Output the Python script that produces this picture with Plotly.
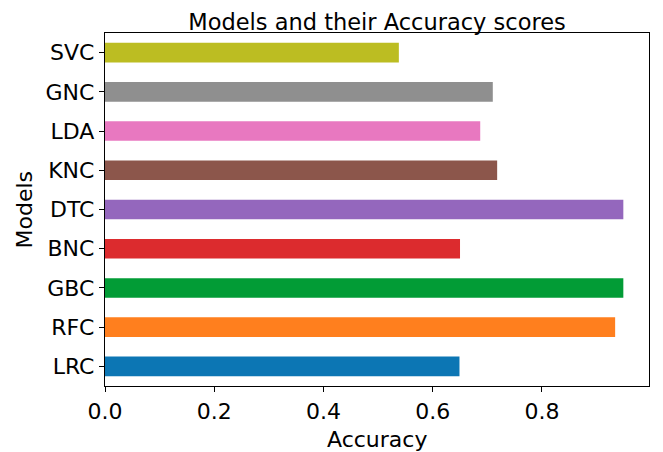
import plotly.graph_objects as go

models = ["LRC", "RFC", "GBC", "BNC", "DTC", "KNC", "LDA", "GNC", "SVC"]
accuracy = [0.649, 0.934, 0.949, 0.650, 0.949, 0.718, 0.687, 0.710, 0.538]
colors = ["#0c76b4", "#ff7f1e", "#029c36", "#dc2b2e", "#9467bd",
          "#8c564b", "#e878c0", "#8f8f8f", "#bcbd22"]
x_ticks = [0.0, 0.2, 0.4, 0.6, 0.8]

FONT = "DejaVu Sans"

fig = go.Figure(
    go.Bar(
        x=accuracy,
        y=models,
        orientation="h",
        width=0.5,
        marker=dict(color=colors, line=dict(width=0)),
    )
)

fig.update_layout(
    width=663,
    height=452,
    margin=dict(l=105, r=14, t=33, b=66),
    paper_bgcolor="white",
    plot_bgcolor="white",
    showlegend=False,
    font=dict(family=FONT, size=22, color="black"),
    title=dict(
        text="Models and their Accuracy scores",
        x=0.5,
        xref="paper",
        xanchor="center",
        y=1 - 21.8 / 452,
        yref="container",
        yanchor="middle",
        font=dict(family=FONT, size=22.5, color="black"),
    ),
    xaxis=dict(
        range=[0, 0.996],
        tickvals=x_ticks,
        ticktext=[f"{v:.1f}" for v in x_ticks],
        ticks="outside",
        ticklen=5,
        tickwidth=1.2,
        tickcolor="black",
        showline=True,
        linecolor="black",
        linewidth=1.3,
        mirror=True,
        showgrid=False,
        zeroline=False,
        tickfont=dict(family=FONT, size=22, color="black"),
    ),
    yaxis=dict(
        type="category",
        categoryorder="array",
        categoryarray=models,
        range=[-0.5, 8.5],
        ticks="outside",
        ticklen=5,
        tickwidth=1.2,
        tickcolor="black",
        showline=True,
        linecolor="black",
        linewidth=1.3,
        mirror=True,
        showgrid=False,
        zeroline=False,
        tickfont=dict(family=FONT, size=22, color="black"),
    ),
    annotations=[
        dict(
            text="Accuracy",
            xref="paper",
            yref="paper",
            x=0.5,
            y=(386 - 439) / 353,
            xanchor="center",
            yanchor="middle",
            showarrow=False,
            font=dict(family=FONT, size=22, color="black"),
        ),
        dict(
            text="Models",
            xref="paper",
            yref="paper",
            x=(24 - 105) / 544,
            y=0.5,
            xanchor="center",
            yanchor="middle",
            textangle=-90,
            showarrow=False,
            font=dict(family=FONT, size=22, color="black"),
        ),
    ],
)

fig.write_html(
    "out.html",
    config={"displayModeBar": False},
    post_script="document.body.style.margin='0';document.body.style.overflow='hidden';",
)
